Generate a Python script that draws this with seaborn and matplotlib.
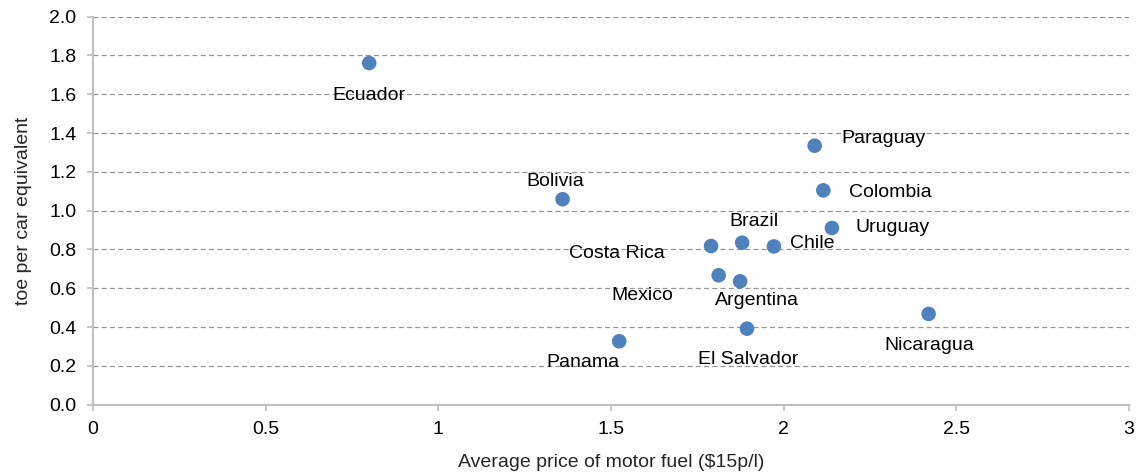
import matplotlib
matplotlib.use("Agg")
import matplotlib.pyplot as plt
import seaborn as sns
import pandas as pd
from matplotlib.ticker import FuncFormatter, MultipleLocator

# Motor fuel price vs. consumption per car equivalent, Latin America
countries = ["Ecuador", "Bolivia", "Paraguay", "Colombia", "Uruguay", "Brazil",
             "Chile", "Costa Rica", "Mexico", "Argentina", "Nicaragua",
             "Panama", "El Salvador"]
fuel_price = [0.80, 1.36, 2.09, 2.115, 2.14, 1.88,
              1.972, 1.79, 1.812, 1.874, 2.42,
              1.524, 1.894]
toe_per_car = [1.761, 1.059, 1.335, 1.105, 0.911, 0.835,
               0.816, 0.818, 0.667, 0.636, 0.468,
               0.327, 0.392]

# label placement relative to each marker (pixels, y up)
label_offsets = {
    "Ecuador": (0, -32), "Bolivia": (-7, 18), "Paraguay": (69, 7),
    "Colombia": (67, -2), "Uruguay": (61, 0), "Brazil": (12, 21),
    "Chile": (38, 3), "Costa Rica": (-94, -7), "Mexico": (-76, -20),
    "Argentina": (17, -19), "Nicaragua": (1, -32), "Panama": (-36, -21),
    "El Salvador": (1, -31),
}

df = pd.DataFrame({"country": countries, "price": fuel_price, "toe": toe_per_car})

sns.set_theme(style="white")
plt.rcParams["font.family"] = ["Liberation Sans", "DejaVu Sans"]

fig = plt.figure(figsize=(11.38, 4.73), dpi=100)
ax = fig.add_axes([0.0817, 0.1444, 0.9103, 0.8203])

sns.scatterplot(data=df, x="price", y="toe", ax=ax, color="#4F81BD",
                s=110, edgecolor="none", zorder=3)

for name, x, y in zip(countries, fuel_price, toe_per_car):
    dx, dy = label_offsets[name]
    ax.annotate(name, (x, y), xytext=(dx, dy), textcoords="offset pixels",
                ha="center", va="center", fontsize=14, color="#000000", zorder=4)

ax.set_xlim(0, 3)
ax.set_ylim(0, 2.0)
ax.xaxis.set_major_locator(MultipleLocator(0.5))
ax.yaxis.set_major_locator(MultipleLocator(0.2))
ax.xaxis.set_major_formatter(FuncFormatter(lambda v, p: f"{v:g}"))
ax.yaxis.set_major_formatter(FuncFormatter(lambda v, p: f"{v:.1f}"))

ax.grid(axis="y", linestyle=(0, (4, 2.6)), color="#969696", linewidth=0.9)
ax.grid(axis="x", visible=False)
ax.set_axisbelow(True)

for side in ("top", "right"):
    ax.spines[side].set_visible(False)
for side in ("left", "bottom"):
    ax.spines[side].set_color("#BFBFBF")
    ax.spines[side].set_linewidth(1.5)

ax.tick_params(axis="both", which="major", length=4, width=1.2, color="#BFBFBF",
               labelsize=14, labelcolor="#000000", direction="out")
ax.tick_params(axis="x", bottom=True, pad=8)
ax.tick_params(axis="y", left=True, pad=8)

ax.set_xlabel("Average price of motor fuel ($15p/l)", fontsize=14, labelpad=11)
ax.set_ylabel("toe per car equivalent", fontsize=14, labelpad=12)

fig.savefig("out.png", dpi=100)
